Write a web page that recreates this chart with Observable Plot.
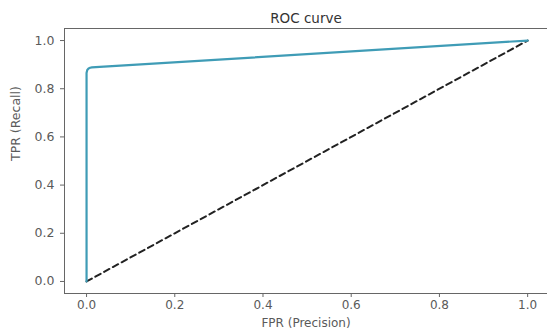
<!DOCTYPE html>
<html>
<head>
<meta charset="utf-8">
<script src="https://cdn.jsdelivr.net/npm/d3@7"></script>
<script src="https://cdn.jsdelivr.net/npm/@observablehq/plot@0.6"></script>
<style>
  html, body { margin: 0; padding: 0; background: #fff; }
  #chart svg { display: block; }
</style>
</head>
<body>
<div id="chart"></div>
<script>
const fpr = [0, 0, 0.0016, 0.0045, 0.008, 0.012, 0.03, 1.0];
const tpr = [0, 0.865, 0.878, 0.884, 0.887, 0.8885, 0.8905, 1.0];
const diagX = [0, 1];
const diagY = [0, 1];
const ticks = [0, 0.2, 0.4, 0.6, 0.8, 1.0];
const title = "ROC curve";
const xLabel = "FPR (Precision)";
const yLabel = "TPR (Recall)";

const roc = fpr.map((x, i) => ({x, y: tpr[i]}));
const diag = diagX.map((x, i) => ({x, y: diagY[i]}));

const textColor = "#5a5a5a";
const chart = Plot.plot({
  width: 547,
  height: 333,
  marginTop: 28,
  marginBottom: 40,
  marginLeft: 64,
  marginRight: 0,
  style: {fontFamily: "DejaVu Sans", fontSize: "12px", color: textColor, background: "#fff"},
  x: {domain: [-0.05, 1.045], label: null},
  y: {domain: [-0.05, 1.05], label: null},
  marks: [
    Plot.frame({stroke: "#666", strokeWidth: 1}),
    Plot.axisX({ticks, tickFormat: d3.format(".1f"), tickSize: 4, tickPadding: 3, stroke: "#666", fill: textColor, fontSize: 12}),
    Plot.axisY({ticks, tickFormat: d3.format(".1f"), tickSize: 4, tickPadding: 6, stroke: "#666", fill: textColor, fontSize: 12.5}),
    Plot.line(diag, {x: "x", y: "y", stroke: "#222", strokeWidth: 2, strokeDasharray: "6,4"}),
    Plot.line(roc, {x: "x", y: "y", stroke: "#3f9cb6", strokeWidth: 2.2}),
    Plot.text([title], {frameAnchor: "top", dy: -15, fill: "#333", fontSize: 13.5}),
    Plot.text([xLabel], {frameAnchor: "bottom", dy: 33, fill: textColor, fontSize: 12}),
    Plot.text([yLabel], {frameAnchor: "left", dx: -49, rotate: -90, fill: textColor, fontSize: 12.5})
  ]
});
document.getElementById("chart").appendChild(chart);
</script>
</body>
</html>
